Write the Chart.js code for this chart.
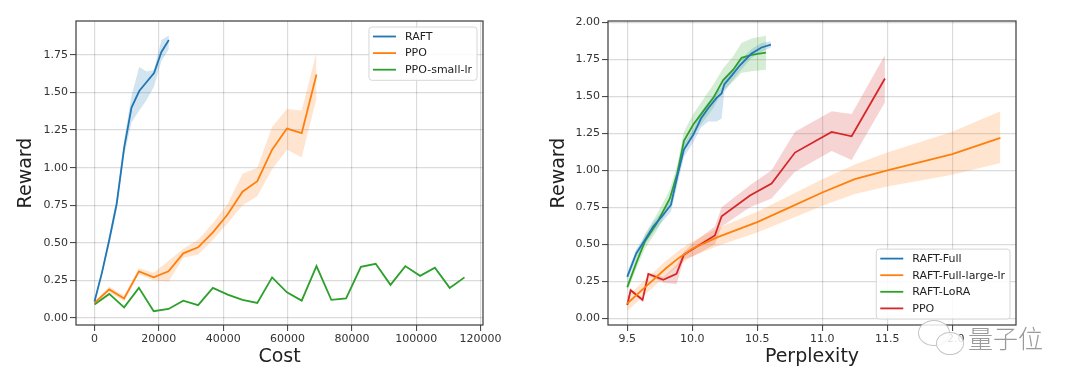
<!DOCTYPE html>
<html><head><meta charset="utf-8">
<script src="https://cdn.jsdelivr.net/npm/chart.js@4"></script>
<style>
body{margin:0;background:#fff;width:1080px;height:383px;overflow:hidden;position:relative;font-family:"DejaVu Sans",sans-serif}
.c{position:absolute;top:0;width:540px;height:383px}
#wm{position:absolute;left:916px;top:318px;width:140px;height:40px;pointer-events:none}
.bub{position:absolute;border:1.5px solid #c4c4c4;border-radius:50%;background:rgba(255,255,255,0.85)}
#wmt{position:absolute;left:52px;top:4px;font-family:"Noto Sans CJK SC";font-weight:300;font-size:25px;line-height:30px;color:#9a9a9a;letter-spacing:0px}
</style></head><body>
<div class="c" style="left:0"><canvas id="c1"></canvas></div>
<div class="c" style="left:540px"><canvas id="c2"></canvas></div>
<div id="wm"><div class="bub" style="left:2px;top:2px;width:30px;height:24px"></div><div class="bub" style="left:20px;top:14px;width:26px;height:21px"></div><div id="wmt">量子位</div></div>
<script>
// ---- Left chart: Reward vs Cost ----
const raftCost   = [0, 2300, 4600, 6900, 9200, 11500, 13900, 16200, 18500, 20800, 23100];
const raftReward = [0.11, 0.30, 0.52, 0.76, 1.13, 1.40, 1.51, 1.57, 1.63, 1.77, 1.85];
const raftUpper  = [0.12, 0.32, 0.55, 0.80, 1.18, 1.48, 1.67, 1.64, 1.65, 1.85, 1.88];
const raftLower  = [0.10, 0.28, 0.49, 0.72, 1.08, 1.30, 1.38, 1.45, 1.54, 1.71, 1.79];

const ppoCost   = [0, 4600, 9200, 13800, 18400, 23000, 27600, 32200, 36800, 41400, 46000, 50600, 55200, 59800, 64400, 69000];
const ppoReward = [0.10, 0.19, 0.13, 0.31, 0.27, 0.31, 0.43, 0.47, 0.57, 0.69, 0.84, 0.91, 1.12, 1.26, 1.23, 1.62];
const ppoUpper  = [0.11, 0.21, 0.15, 0.33, 0.30, 0.38, 0.46, 0.52, 0.63, 0.76, 0.96, 1.00, 1.27, 1.39, 1.38, 1.77];
const ppoLower  = [0.09, 0.17, 0.11, 0.29, 0.25, 0.24, 0.40, 0.42, 0.52, 0.63, 0.75, 0.81, 0.99, 1.12, 1.07, 1.46];

const smallCost   = [0, 4600, 9200, 13800, 18400, 23000, 27600, 32200, 36800, 41400, 46000, 50600, 55200, 59800, 64400, 69000, 73600, 78200, 82800, 87400, 92000, 96600, 101200, 105800, 110400, 115000];
const smallReward = [0.09, 0.16, 0.07, 0.20, 0.045, 0.06, 0.115, 0.085, 0.20, 0.155, 0.12, 0.10, 0.27, 0.17, 0.115, 0.345, 0.12, 0.13, 0.34, 0.36, 0.22, 0.345, 0.28, 0.335, 0.20, 0.27];

const costTicks   = [0, 20000, 40000, 60000, 80000, 100000, 120000];
const rewardTicks1 = [0, 0.25, 0.5, 0.75, 1.0, 1.25, 1.5, 1.75];

// ---- Right chart: Reward vs Perplexity ----
const fullPpl    = [9.5, 9.57, 9.636, 9.70, 9.777, 9.836, 9.885, 9.936, 10.008, 10.067, 10.123, 10.187, 10.226, 10.246, 10.303, 10.367, 10.456, 10.533, 10.605];
const fullReward = [0.28, 0.44, 0.53, 0.62, 0.70, 0.766, 0.96, 1.14, 1.24, 1.35, 1.42, 1.49, 1.52, 1.58, 1.64, 1.71, 1.79, 1.83, 1.85];
const fullUpper  = [0.31, 0.47, 0.56, 0.65, 0.73, 0.80, 1.00, 1.18, 1.28, 1.39, 1.46, 1.53, 1.56, 1.61, 1.67, 1.74, 1.82, 1.86, 1.87];
const fullLower  = [0.25, 0.41, 0.50, 0.58, 0.66, 0.72, 0.90, 1.09, 1.19, 1.29, 1.33, 1.33, 1.35, 1.53, 1.60, 1.67, 1.76, 1.80, 1.83];

const largePpl    = [9.5, 9.6, 9.7, 9.8, 9.9, 10.0, 10.2, 10.5, 10.75, 11.0, 11.25, 11.5, 12.0, 12.37];
const largeReward = [0.10, 0.18, 0.26, 0.34, 0.41, 0.47, 0.55, 0.65, 0.75, 0.85, 0.94, 1.00, 1.11, 1.22];
const largeUpper  = [0.15, 0.23, 0.31, 0.39, 0.46, 0.52, 0.61, 0.72, 0.83, 0.94, 1.04, 1.12, 1.26, 1.40];
const largeLower  = [0.05, 0.13, 0.21, 0.29, 0.36, 0.42, 0.49, 0.58, 0.67, 0.76, 0.84, 0.89, 0.97, 1.05];

const loraPpl    = [9.5, 9.572, 9.636, 9.726, 9.828, 9.885, 9.936, 10.008, 10.085, 10.162, 10.238, 10.315, 10.379, 10.456, 10.567];
const loraReward = [0.21, 0.38, 0.52, 0.64, 0.81, 0.98, 1.20, 1.31, 1.40, 1.49, 1.61, 1.68, 1.76, 1.78, 1.795];
const loraUpper  = [0.24, 0.42, 0.57, 0.70, 0.87, 1.04, 1.26, 1.38, 1.48, 1.58, 1.69, 1.77, 1.86, 1.89, 1.91];
const loraLower  = [0.18, 0.34, 0.47, 0.59, 0.76, 0.93, 1.14, 1.24, 1.33, 1.42, 1.54, 1.60, 1.66, 1.67, 1.68];

const rppoPpl    = [9.5, 9.526, 9.618, 9.662, 9.777, 9.879, 9.936, 10.008, 10.174, 10.226, 10.444, 10.610, 10.790, 11.072, 11.226, 11.482];
const rppoReward = [0.09, 0.19, 0.124, 0.30, 0.26, 0.30, 0.43, 0.47, 0.56, 0.69, 0.83, 0.91, 1.12, 1.26, 1.23, 1.62];
const rppoUpper  = [0.10, 0.20, 0.135, 0.31, 0.28, 0.36, 0.45, 0.51, 0.62, 0.75, 0.90, 1.00, 1.26, 1.40, 1.38, 1.78];
const rppoLower  = [0.08, 0.18, 0.11, 0.29, 0.24, 0.23, 0.40, 0.42, 0.50, 0.62, 0.75, 0.81, 0.99, 1.13, 1.07, 1.46];

const pplTicks     = [9.5, 10.0, 10.5, 11.0, 11.5, 12.0];
const rewardTicks2 = [0, 0.25, 0.5, 0.75, 1.0, 1.25, 1.5, 1.75, 2.0];

const BLUE = '#1f77b4', ORANGE = '#ff7f0e', GREEN = '#2ca02c', RED = '#d62728';
function rgba(hex, a){const n=parseInt(hex.slice(1),16);return `rgba(${n>>16},${(n>>8)&255},${n&255},${a})`;}
const pts = (xs, ys) => xs.map((x,i)=>({x, y: ys[i]}));

function lineDs(label, xs, ys, color){
  return {label, data: pts(xs, ys), borderColor: color, borderWidth: 1.8, pointRadius: 0, fill: false, tension: 0, order: 0, isMain: true};
}
function bandDs(xs, up, lo, color){
  return [
    {label: '_u', data: pts(xs, up), borderWidth: 0, borderColor: 'transparent', pointRadius: 0, fill: '+1', backgroundColor: rgba(color, 0.2), tension: 0, order: 1},
    {label: '_l', data: pts(xs, lo), borderWidth: 0, borderColor: 'transparent', pointRadius: 0, fill: false, tension: 0, order: 1}
  ];
}

const framePlugin = {
  id: 'frame',
  afterDraw(chart){
    const {ctx, chartArea: a} = chart;
    ctx.save();
    ctx.strokeStyle = '#3a3a3a'; ctx.lineWidth = 1.2;
    ctx.strokeRect(a.left, a.top, a.right - a.left, a.bottom - a.top);
    // legend
    const lg = chart.options.plugins.mplLegend;
    const items = chart.data.datasets.filter(d => d.isMain);
    ctx.font = '11px "DejaVu Sans"';
    const tw = Math.max(...items.map(d => ctx.measureText(d.label).width));
    const rowH = 16.6;
    const w = 36 + tw + 5, h = items.length * rowH + 3.5;
    const x = a.right - 6 - w;
    const y = lg.pos === 'upper right' ? a.top + 6 : a.bottom - 6 - h;
    ctx.beginPath();
    ctx.roundRect(x, y, w, h, 3);
    ctx.fillStyle = 'rgba(255,255,255,0.85)'; ctx.fill();
    ctx.strokeStyle = '#d6d6d6'; ctx.lineWidth = 1; ctx.stroke();
    items.forEach((d, i) => {
      const cy = y + 9.5 + i * rowH;
      ctx.beginPath(); ctx.strokeStyle = d.borderColor; ctx.lineWidth = 1.8;
      ctx.moveTo(x + 4, cy); ctx.lineTo(x + 27, cy); ctx.stroke();
      ctx.fillStyle = '#222'; ctx.textBaseline = 'middle'; ctx.textAlign = 'left';
      ctx.fillText(d.label, x + 36, cy + 0.5);
    });
    ctx.restore();
  }
};

function makeOpts(cfg){
  const tickFont = {family: 'DejaVu Sans', size: 11};
  const titleFont = {family: 'DejaVu Sans', size: 19};
  return {
    responsive: true, maintainAspectRatio: false, animation: false, devicePixelRatio: 1,
    layout: {padding: {left: 0, right: cfg.padRight, top: 21, bottom: 0}},
    plugins: {legend: {display: false}, tooltip: {enabled: false}, filler: {propagate: false}, mplLegend: {pos: cfg.legendPos}},
    scales: {
      x: {
        type: 'linear', min: cfg.xmin, max: cfg.xmax,
        afterBuildTicks: s => { s.ticks = cfg.xTicks.map(v => ({value: v})); },
        afterFit: s => { s.height = 58; },
        ticks: {font: tickFont, color: '#333', padding: 2, maxRotation: 0, autoSkip: false, callback: cfg.xFmt},
        grid: {color: 'rgba(0,0,0,0.14)', lineWidth: 1.2, tickLength: 6, tickColor: '#3a3a3a', tickWidth: 1},
        border: {display: false},
        title: {display: true, text: cfg.xTitle, font: titleFont, color: '#222', padding: {top: 0, bottom: 14.6}}
      },
      y: {
        type: 'linear', min: cfg.ymin, max: cfg.ymax,
        afterBuildTicks: s => { s.ticks = cfg.yTicks.map(v => ({value: v})); },
        afterFit: s => { s.width = cfg.yWidth; },
        ticks: {font: tickFont, color: '#333', padding: 2, autoSkip: false, callback: v => v.toFixed(2)},
        grid: {color: 'rgba(0,0,0,0.14)', lineWidth: 1.2, tickLength: 6, tickColor: '#3a3a3a', tickWidth: 1},
        border: {display: false},
        title: {display: true, text: 'Reward', font: titleFont, color: '#222', padding: {top: cfg.yTitlePad, bottom: 0}}
      }
    }
  };
}

new Chart(document.getElementById('c1'), {
  type: 'line',
  data: {datasets: [
    lineDs('RAFT', raftCost, raftReward, BLUE),
    lineDs('PPO', ppoCost, ppoReward, ORANGE),
    lineDs('PPO-small-lr', smallCost, smallReward, GREEN),
    ...bandDs(raftCost, raftUpper, raftLower, BLUE),
    ...bandDs(ppoCost, ppoUpper, ppoLower, ORANGE)
  ]},
  options: makeOpts({padRight: 57, xmin: -5750, xmax: 120750, ymin: -0.047, ymax: 1.976, xTicks: costTicks, yTicks: rewardTicks1,
    xFmt: v => String(v), xTitle: 'Cost', yWidth: 76, yTitlePad: 15, legendPos: 'upper right'}),
  plugins: [framePlugin]
});

new Chart(document.getElementById('c2'), {
  type: 'line',
  data: {datasets: [
    lineDs('RAFT-Full', fullPpl, fullReward, BLUE),
    lineDs('RAFT-Full-large-lr', largePpl, largeReward, ORANGE),
    lineDs('RAFT-LoRA', loraPpl, loraReward, GREEN),
    lineDs('PPO', rppoPpl, rppoReward, RED),
    ...bandDs(fullPpl, fullUpper, fullLower, BLUE),
    ...bandDs(largePpl, largeUpper, largeLower, ORANGE),
    ...bandDs(loraPpl, loraUpper, loraLower, GREEN),
    ...bandDs(rppoPpl, rppoUpper, rppoLower, RED)
  ]},
  options: makeOpts({padRight: 64, xmin: 9.352, xmax: 12.49, ymin: -0.045, ymax: 2.009, xTicks: pplTicks, yTicks: rewardTicks2,
    xFmt: v => v.toFixed(1), xTitle: 'Perplexity', yWidth: 68, yTitlePad: 7.6, legendPos: 'lower right'}),
  plugins: [framePlugin]
});
</script>
</body></html>
